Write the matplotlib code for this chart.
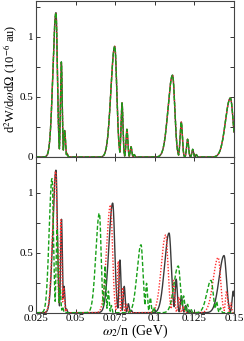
import numpy as np
import matplotlib
matplotlib.use("Agg")
import matplotlib.pyplot as plt
import matplotlib.transforms as mtransforms

plt.rcParams['font.family'] = ['Liberation Serif', 'DejaVu Serif']
plt.rcParams['mathtext.fontset'] = 'stix'

# Peak tables: (centre GeV, height 1e-6 au, left width, right width)
top_peaks = [
    (0.0376, 1.20, 0.0019, 0.0009), (0.0410, 0.79, 0.00055, 0.00055),
    (0.0431, 0.22, 0.0005, 0.0005), (0.0446, 0.03, 0.0004, 0.0004),
    (0.0747, 0.92, 0.0024, 0.0013), (0.0793, 0.45, 0.0006, 0.0006),
    (0.0824, 0.23, 0.00055, 0.00055), (0.0850, 0.085, 0.0005, 0.0005),
    (0.0870, 0.02, 0.0004, 0.0004),
    (0.1112, 0.68, 0.0028, 0.0014), (0.1167, 0.29, 0.0007, 0.0007),
    (0.1207, 0.147, 0.0006, 0.0006), (0.1239, 0.064, 0.0005, 0.0005),
    (0.1262, 0.02, 0.0004, 0.0004),
    (0.1477, 0.49, 0.0031, 0.00175),
]

black_peaks = [
    (0.0376, 1.19, 0.0019, 0.0009), (0.0411, 0.78, 0.00055, 0.00055),
    (0.0427, 0.22, 0.0005, 0.0005), (0.0443, 0.03, 0.0004, 0.0004),
    (0.0734, 0.915, 0.0024, 0.0013), (0.0780, 0.44, 0.0006, 0.0006),
    (0.0807, 0.22, 0.00055, 0.00055), (0.0833, 0.075, 0.0005, 0.0005),
    (0.0852, 0.02, 0.0004, 0.0004),
    (0.1090, 0.665, 0.0028, 0.0014), (0.1135, 0.28, 0.0007, 0.0007),
    (0.1168, 0.14, 0.0006, 0.0006), (0.1195, 0.06, 0.0005, 0.0005),
    (0.1220, 0.02, 0.0004, 0.0004),
    (0.1437, 0.477, 0.0031, 0.0015), (0.1495, 0.18, 0.0007, 0.0007),
]

red_peaks = [
    (0.0374, 1.18, 0.0019, 0.0009), (0.0407, 0.776, 0.00055, 0.00055),
    (0.0425, 0.21, 0.0005, 0.0005), (0.0440, 0.03, 0.0004, 0.0004),
    (0.0720, 0.90, 0.0024, 0.0013), (0.0769, 0.43, 0.0006, 0.0006),
    (0.0797, 0.21, 0.00055, 0.00055), (0.0822, 0.07, 0.0005, 0.0005),
    (0.0840, 0.02, 0.0004, 0.0004),
    (0.1069, 0.65, 0.0028, 0.0014), (0.1118, 0.27, 0.0007, 0.0007),
    (0.1152, 0.13, 0.0006, 0.0006), (0.1180, 0.055, 0.0005, 0.0005),
    (0.1400, 0.46, 0.0031, 0.0015), (0.1453, 0.18, 0.0007, 0.0007),
    (0.1480, 0.08, 0.0005, 0.0005),
]

green_peaks = [
    (0.0351, 1.12, 0.0018, 0.0009), (0.0383, 0.70, 0.0006, 0.0006),
    (0.0402, 0.20, 0.0005, 0.0005), (0.0418, 0.05, 0.0004, 0.0004),
    (0.0650, 0.83, 0.0022, 0.0011), (0.0686, 0.39, 0.00055, 0.00055),
    (0.0707, 0.18, 0.0005, 0.0005), (0.0726, 0.06, 0.0004, 0.0004),
    (0.0913, 0.567, 0.0025, 0.0012), (0.0948, 0.245, 0.0006, 0.0006),
    (0.0972, 0.125, 0.0005, 0.0005), (0.0993, 0.045, 0.0004, 0.0004),
    (0.1148, 0.39, 0.0027, 0.0013), (0.1182, 0.14, 0.0006, 0.0006),
    (0.1207, 0.07, 0.0005, 0.0005), (0.1230, 0.025, 0.0004, 0.0004),
    (0.1355, 0.27, 0.0027, 0.0013), (0.1390, 0.095, 0.0006, 0.0006),
    (0.1415, 0.04, 0.0005, 0.0005),
]

x_ticks = [0.025, 0.05, 0.075, 0.1, 0.125, 0.15]
x_ticklabels = ['0.025', '0.05', '0.075', '0.1', '0.125', '0.15']
y_ticks = [0, 0.25, 0.5, 0.75, 1.0, 1.25]
y_ticklabels = ['0', '', '0.5', '', '1', '']


def curve(peaks, x):
    y = np.zeros_like(x)
    for c, h, sl, sr in peaks:
        s = np.where(x < c, sl, sr)
        y = np.maximum(y, h * np.exp(-0.5 * ((x - c) / s) ** 2))
    return y


x = np.linspace(0.025, 0.15, 4000)

fig = plt.figure(figsize=(2.44, 3.41), dpi=100)
L, R = 36 / 244, 234 / 244
ytop = 1 - 0.6 / 341
ymid = 1 - 157 / 341
ybot = 1 - 312.7 / 341
ax1 = fig.add_axes([L, ymid, R - L, ytop - ymid])
ax2 = fig.add_axes([L, ybot, R - L, ymid - ybot])

styles = dict(
    black=dict(color='#3a3a3a', lw=1.0, ls='-'),
    red=dict(color='#ff3030', lw=1.0, ls=(0, (1, 1.2))),
    green=dict(color='#18a018', lw=1.0, ls=(0, (3, 1.5))),
)

yt = curve(top_peaks, x)
ax1.plot(x, yt, **styles['black'])
ax1.plot(x, yt, **styles['red'])
ax1.plot(x, yt, **styles['green'])

ax2.plot(x, curve(black_peaks, x), **styles['black'])
ax2.plot(x, curve(red_peaks, x), **styles['red'])
ax2.plot(x, curve(green_peaks, x), **styles['green'])

for ax in (ax1, ax2):
    ax.set_xlim(0.025, 0.15)
    ax.set_ylim(0, 1.3)
    ax.set_xticks(x_ticks)
    ax.set_yticks(y_ticks)
    ax.set_yticklabels(y_ticklabels)
    ax.tick_params(direction='in', length=3, width=0.7, labelsize=8,
                   top=True, right=True, pad=2, color='#333333')
    for sp in ax.spines.values():
        sp.set_color('#444444')
        sp.set_linewidth(0.8)

ax1.set_xticklabels([])
ax2.set_xticklabels(x_ticklabels)
ax2.tick_params(axis='x', pad=1)
# lift the bottom "0" slightly so it does not collide with "0.025"
lbl0 = ax2.get_yticklabels()[0]
lbl0.set_transform(lbl0.get_transform() +
                   mtransforms.ScaledTranslation(0, 3 / 72, fig.dpi_scale_trans))
ax2.set_xlabel(r'$\omega_2$/n (GeV)', fontsize=10, labelpad=0)
ax1.set_ylabel(r'd$^2$W/d$\omega$d$\Omega$ (10$^{-6}$ au)', fontsize=9)
ax1.yaxis.set_label_coords(-0.079, 0.5)

fig.savefig('out.png', dpi=100)
